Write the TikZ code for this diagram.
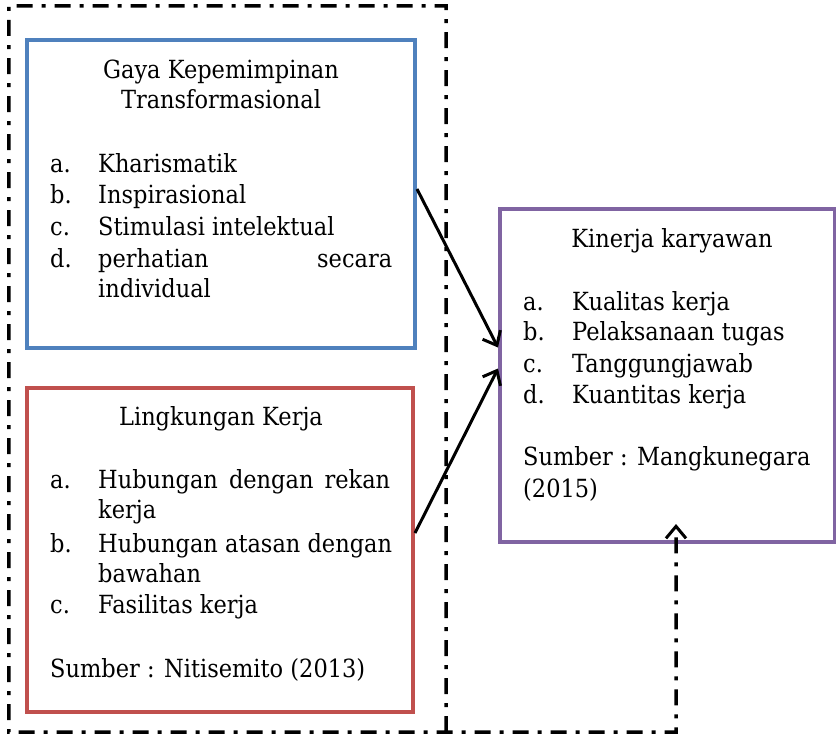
\documentclass[tikz,border=0pt]{standalone}
\usepackage{fontspec}
\setmainfont[FakeStretch=0.9]{DejaVu Serif}
\usetikzlibrary{arrows.meta}
\definecolor{boxblue}{HTML}{4F81BD}
\definecolor{boxred}{HTML}{C0504D}
\definecolor{boxpurple}{HTML}{8064A2}
\begin{document}
\begin{tikzpicture}[x=1pt,y=-1pt,
  panel/.style={draw, line width=4pt, inner sep=0pt},
  txt/.style={inner sep=0pt, anchor=base west, font=\fontsize{25}{30}\selectfont},
  ttl/.style={txt, anchor=base},
  dashdot/.style={line width=3.5pt, dash pattern=on 16pt off 9pt on 4pt off 9pt},
  link/.style={line width=3pt, -{Straight Barb[length=12pt,width=20pt,line width=3pt]}}]
\useasboundingbox (0,0) rectangle (836,736);

% region enclosing the two independent variables
\node[inner sep=0pt, minimum width=437pt, minimum height=726pt] (frame) at (227.5,369) {};

% panels
\node[panel, draw=boxblue, minimum width=388pt, minimum height=308pt] (blue) at (221,194) {};
\node[panel, draw=boxred, minimum width=386pt, minimum height=324pt] (red) at (220,550) {};
\node[panel, draw=boxpurple, minimum width=335pt, minimum height=333pt] (purple) at (667.5,375.5) {};

% Gaya Kepemimpinan Transformasional
\node[ttl] (g1) at (221,78) {Gaya Kepemimpinan};
\node[ttl] (g2) at (221,108) {Transformasional};
\node[txt] (ga) at (50,172) {a.};  \node[txt] (gat) at (98,172) {Kharismatik};
\node[txt] (gb) at (50,203) {b.};  \node[txt] (gbt) at (98,203) {Inspirasional};
\node[txt] (gc) at (50,235) {c.};  \node[txt] (gct) at (98,235) {Stimulasi intelektual};
\node[txt] (gd) at (50,267) {d.};  \node[txt] (gdt) at (98,267) {\hbox to 294pt{perhatian\hfil secara}};
\node[txt] (gdu) at (98,297) {individual};

% Lingkungan Kerja
\node[ttl] (l1) at (221,425) {Lingkungan Kerja};
\node[txt] (la) at (50,488) {a.};  \node[txt] (lat) at (98,488) {\hbox to 292pt{Hubungan\hfil dengan\hfil rekan}};
\node[txt] (lau) at (98,518) {kerja};
\node[txt] (lb) at (50,552) {b.};  \node[txt] (lbt) at (98,552) {Hubungan atasan dengan};
\node[txt] (lbu) at (98,582) {bawahan};
\node[txt] (lc) at (50,613) {c.};  \node[txt] (lct) at (98,613) {Fasilitas kerja};
\node[txt] (ls) at (50,677) {Sumber : Nitisemito (2013)};

% Kinerja karyawan
\node[ttl] (k1) at (672,247) {Kinerja karyawan};
\node[txt] (ka) at (523,310) {a.};  \node[txt] (kat) at (572,310) {Kualitas kerja};
\node[txt] (kb) at (523,340) {b.};  \node[txt] (kbt) at (572,340) {Pelaksanaan tugas};
\node[txt] (kc) at (523,372) {c.};  \node[txt] (kct) at (572,372) {Tanggungjawab};
\node[txt] (kd) at (523,403) {d.};  \node[txt] (kdt) at (572,403) {Kuantitas kerja};
\node[txt] (ks) at (523,465) {Sumber : Mangkunegara};
\node[txt] (ky) at (523,497) {(2015)};

% influence arrows
\draw[link] ([yshift=5pt]blue.east) -- ([yshift=28pt]purple.west);
\draw[link] ([yshift=17pt]red.east) -- ([yshift=7pt]purple.west);

% dash-dot frame, continuing as the joint-influence arrow
\coordinate (fb) at (676,732);
\draw[dashdot, -{Straight Barb[length=12pt,width=20pt,line width=3pt]}]
  (frame.south east) -- (frame.north east) -- (frame.north west)
  -- (frame.south west) -- (fb) -- ([yshift=20pt]purple.south -| fb);
\end{tikzpicture}
\end{document}
